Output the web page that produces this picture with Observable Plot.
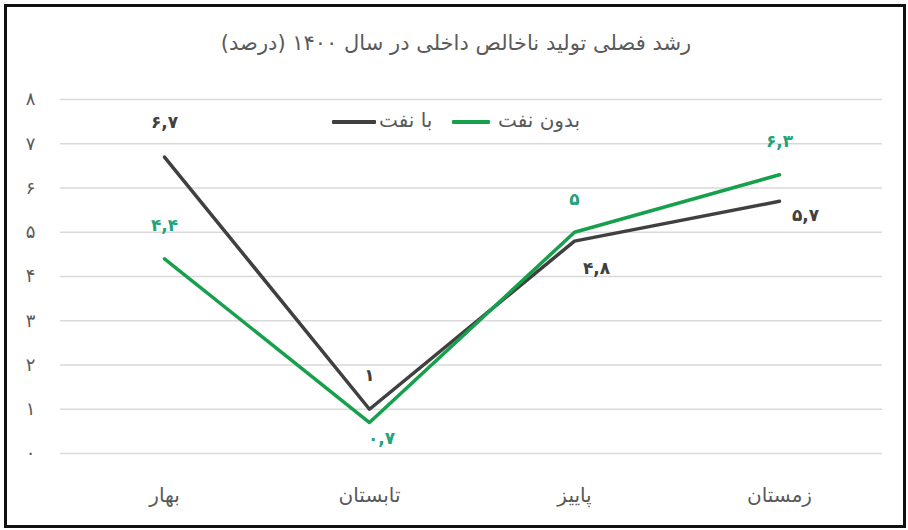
<!DOCTYPE html>
<html>
<head>
<meta charset="utf-8">
<script src="https://cdn.jsdelivr.net/npm/d3@7"></script>
<script src="https://cdn.jsdelivr.net/npm/@observablehq/plot@0.6"></script>
<style>
  html, body { margin: 0; padding: 0; background: #fff; }
  body { width: 908px; height: 530px; position: relative; overflow: hidden; font-family: "DejaVu Sans", sans-serif; }
  #frame { position: absolute; left: 4px; top: 4px; width: 896px; height: 518px; border: 3px solid #111; }
  #title { position: absolute; left: 0; width: 912px; top: 31px; text-align: center; font-size: 21px; color: #5a5a5a; }
  #chart { position: absolute; left: 0; top: 80px; }
  #legend { position: absolute; top: 108px; left: 0; width: 908px; height: 26px; }
  .sw { position: absolute; top: 12px; height: 4px; border-radius: 1px; }
  .lt { position: absolute; top: 0; font-size: 20px; color: #595959; white-space: nowrap; }
</style>
</head>
<body>
<div id="frame"></div>
<div id="title" dir="rtl">رشد فصلی تولید ناخالص داخلی در سال ۱۴۰۰ (درصد)</div>
<div id="chart"></div>
<div id="legend">
  <div class="sw" style="left:332px;width:44px;background:#404040"></div>
  <div class="lt" dir="rtl" style="left:379px">با نفت</div>
  <div class="sw" style="left:452px;width:38px;background:#17a04c"></div>
  <div class="lt" dir="rtl" style="left:498px">بدون نفت</div>
</div>
<script>
const categories = ["بهار", "تابستان", "پاییز", "زمستان"];
const withOil = [6.7, 1, 4.8, 5.7];
const withoutOil = [4.4, 0.7, 5, 6.3];
const yTicks = [0, 1, 2, 3, 4, 5, 6, 7, 8];
const seriesNames = ["با نفت", "بدون نفت"];

const fa = (v) => String(v).replace(/\d/g, d => "۰۱۲۳۴۵۶۷۸۹"[d]).replace(".", ",");

const oil = categories.map((c, i) => ({cat: c, value: withOil[i], series: seriesNames[0], i}));
const noOil = categories.map((c, i) => ({cat: c, value: withoutOil[i], series: seriesNames[1], i}));

const GRAY = "#404040", GREEN = "#17a04c", GREEN_T = "#22a37a";
const lbl = {x: "cat", y: "value", text: d => fa(d.value), fontSize: 17, fontWeight: "bold"};

const chart = Plot.plot({
  width: 908,
  height: 430,
  marginLeft: 60,
  marginRight: 26,
  marginTop: 19,
  marginBottom: 57,
  style: {fontFamily: "DejaVu Sans, sans-serif", background: "transparent"},
  x: {type: "point", domain: categories, padding: 0.5},
  y: {domain: [0, 8]},
  marks: [
    Plot.gridY(yTicks, {stroke: "#d9d9d9", strokeOpacity: 1, strokeWidth: 1.3}),
    Plot.axisY(yTicks, {tickSize: 0, tickPadding: 30, textAnchor: "middle", tickFormat: fa, fontSize: 18, fill: "#595959", label: null}),
    Plot.axisX({tickSize: 0, tickPadding: 34, fontSize: 20, fill: "#595959", label: null}),
    Plot.line(oil, {x: "cat", y: "value", stroke: GRAY, strokeWidth: 3.5}),
    Plot.line(noOil, {x: "cat", y: "value", stroke: GREEN, strokeWidth: 3.5}),
    // labels: with oil
    Plot.text(oil.filter(d => d.i < 2), {...lbl, fill: GRAY, dy: -34}),
    Plot.text(oil.filter(d => d.i === 2), {...lbl, fill: GRAY, dx: 22, dy: 27}),
    Plot.text(oil.filter(d => d.i === 3), {...lbl, fill: GRAY, dx: 26, dy: 14}),
    // labels: without oil
    Plot.text(noOil.filter(d => d.i !== 1), {...lbl, fill: GREEN_T, dy: -33}),
    Plot.text(noOil.filter(d => d.i === 1), {...lbl, fill: GREEN_T, dx: 12, dy: 16})
  ]
});
document.getElementById("chart").appendChild(chart);
</script>
</body>
</html>
